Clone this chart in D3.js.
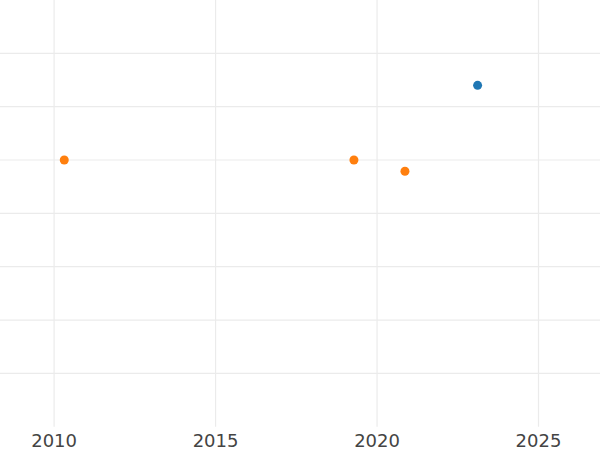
<!DOCTYPE html>
<html>
<head>
<meta charset="utf-8">
<script src="https://cdn.jsdelivr.net/npm/d3@7"></script>
<style>
  body { margin: 0; background: #fff; }
  #chart { width: 600px; height: 450px; }
</style>
</head>
<body>
<div id="chart"></div>
<script>
// Data
var blueYears = [2023.13];
var blueValues = [6.4];
var orangeYears = [2010.33, 2019.3, 2020.88];
var orangeValues = [5.0, 5.0, 4.79];
var xTicks = [2010, 2015, 2020, 2025];
var yTicks = [1, 2, 3, 4, 5, 6, 7];

function createChart() {
    var width = 600, height = 450;
    var plotHeight = 426.7;

    var svg = d3.select("#chart")
        .append("svg")
        .attr("width", width)
        .attr("height", height);

    var xScale = d3.scaleLinear()
        .domain([2008.34, 2026.92])
        .range([0, width]);

    var yScale = d3.scaleLinear()
        .domain([0, 8])
        .range([plotHeight, 0]);

    // horizontal grid
    svg.append("g")
        .selectAll("line")
        .data(yTicks)
        .enter().append("line")
        .attr("x1", 0)
        .attr("x2", width)
        .attr("y1", function (d) { return yScale(d); })
        .attr("y2", function (d) { return yScale(d); })
        .attr("stroke", "#ebebeb")
        .attr("stroke-width", 1.2);

    // x axis with full-height ticks as vertical grid
    var xAxis = d3.axisBottom(xScale)
        .tickValues(xTicks)
        .tickFormat(d3.format("d"))
        .tickSize(-plotHeight)
        .tickPadding(8);

    var gx = svg.append("g")
        .attr("transform", "translate(0," + plotHeight + ")")
        .call(xAxis);
    gx.select(".domain").remove();
    gx.selectAll(".tick line")
        .attr("stroke", "#ebebeb")
        .attr("stroke-width", 1.2);
    gx.selectAll(".tick text")
        .attr("fill", "#444")
        .attr("font-family", "DejaVu Sans, sans-serif")
        .attr("font-size", "18px");

    var blue = blueYears.map(function (d, i) { return [d, blueValues[i]]; });
    var orange = orangeYears.map(function (d, i) { return [d, orangeValues[i]]; });

    svg.append("g").selectAll("circle")
        .data(orange)
        .enter().append("circle")
        .attr("cx", function (d) { return xScale(d[0]); })
        .attr("cy", function (d) { return yScale(d[1]); })
        .attr("r", 4.5)
        .attr("fill", "#ff7f0e");

    svg.append("g").selectAll("circle")
        .data(blue)
        .enter().append("circle")
        .attr("cx", function (d) { return xScale(d[0]); })
        .attr("cy", function (d) { return yScale(d[1]); })
        .attr("r", 4.5)
        .attr("fill", "#1f77b4");
}

createChart();
</script>
</body>
</html>
